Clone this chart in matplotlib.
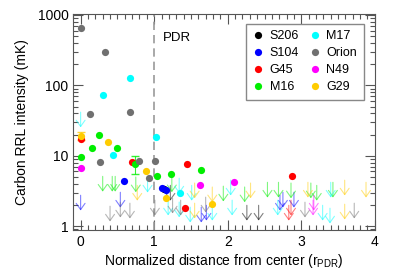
import matplotlib
matplotlib.use("Agg")
import matplotlib.pyplot as plt
from matplotlib.ticker import FixedLocator, MultipleLocator, LogLocator, NullFormatter

plt.rcParams['font.family'] = ['Liberation Sans', 'DejaVu Sans']
plt.rcParams['mathtext.fontset'] = 'custom'
plt.rcParams['mathtext.rm'] = 'Liberation Sans'
plt.rcParams['mathtext.it'] = 'Liberation Sans:italic'

# source names and colours (legend order)
names = ["S206", "S104", "G45", "M16", "M17", "Orion", "N49", "G29"]
colors = ["#000000", "#0000ff", "#ff0000", "#00ee00", "#00ffff", "#707070", "#ff00ff", "#ffcc00"]

# detections: distance (r_PDR) and intensity (mK)
det_x = {
    "S206": [1.14],
    "S104": [0.59, 1.10, 1.16],
    "G45": [0.0, 0.70, 1.44, 1.42, 2.87],
    "M16": [0.0, 0.15, 0.25, 0.50, 0.74, 1.04, 1.23, 1.64],
    "M17": [0.30, 0.67, 0.44, 1.02, 1.35],
    "Orion": [0.0, 0.33, 0.67, 0.13, 0.27, 0.80, 1.01, 0.93],
    "N49": [0.0, 1.62, 2.09],
    "G29": [0.0, 0.37, 0.89, 1.16, 1.79],
}
det_y = {
    "S206": [3.35],
    "S104": [4.35, 3.5, 3.25],
    "G45": [17.5, 8.1, 7.6, 1.8, 5.2],
    "M16": [9.5, 12.8, 19.5, 12.8, 7.6, 5.1, 5.6, 6.2],
    "M17": [72, 126, 10.2, 18.3, 3.0],
    "Orion": [645, 302, 42, 39, 8.2, 8.5, 8.4, 4.9],
    "N49": [6.6, 3.9, 4.2],
    "G29": [19, 15.5, 6.0, 2.5, 2.05],
}
# error bars (only a couple are visible)
err_src = ["G29", "M16"]
err_x = [0.0, 0.74]
err_y = [19, 7.6]
err_lo = [2.5, 2.0]
err_hi = [2.5, 2.2]

# upper limits: distance and limit value
lim_x = {
    "S206": [1.22, 2.26, 2.42],
    "S104": [0.0, 0.54, 1.64, 1.71, 2.71, 2.75, 2.90],
    "G45": [2.83, 2.86],
    "M16": [0.30, 0.43, 0.47, 0.75, 1.24, 1.94, 2.23, 2.54, 2.69, 2.86, 3.13, 3.21, 3.43],
    "M17": [0.0, 0.91, 1.19, 1.34, 1.34, 1.49, 1.51, 1.79, 2.04, 2.06, 2.68, 3.29, 3.39, 3.40],
    "Orion": [0.40, 0.54, 0.67, 1.01, 1.25, 1.36, 1.70, 3.05, 3.72],
    "N49": [3.17, 3.16],
    "G29": [0.77, 1.55, 1.79, 2.31, 1.55, 3.09, 3.59, 3.88, 3.59],
}
lim_y = {
    "S206": [3.8, 1.98, 1.98],
    "S104": [2.75, 3.03, 1.86, 1.98, 2.75, 3.03, 3.03],
    "G45": [1.98, 2.34],
    "M16": [5.1, 5.1, 5.1, 5.0, 5.0, 3.7, 3.6, 4.2, 4.2, 4.1, 4.1, 3.8, 4.2],
    "M17": [41.7, 4.95, 2.34, 4.8, 2.2, 1.86, 3.8, 1.98, 4.5, 2.34, 2.34, 1.98, 1.8, 4.2],
    "Orion": [1.92, 2.19, 2.12, 2.34, 2.5, 2.34, 2.58, 2.19, 2.12],
    "N49": [2.75, 2.34],
    "G29": [3.8, 4.1, 3.6, 4.1, 2.12, 4.2, 4.5, 4.2, 2.05],
}

fig = plt.figure(figsize=(4.07, 2.71), dpi=100)
ax = fig.add_axes([0.180, 0.151, 0.741, 0.797])
ax.set_yscale("log")

for name, c in zip(names, colors):
    for x, y in zip(lim_x[name], lim_y[name]):
        ax.annotate("", xy=(x, y / 1.65), xytext=(x, y),
                    arrowprops=dict(arrowstyle="->,head_length=0.45,head_width=0.32",
                                    color=c, lw=0.8, alpha=0.5,
                                    shrinkA=0, shrinkB=0))

for s, x, y, lo, hi in zip(err_src, err_x, err_y, err_lo, err_hi):
    c = colors[names.index(s)]
    ax.errorbar([x], [y], yerr=[[lo], [hi]], fmt="none", ecolor=c,
                elinewidth=0.8, capsize=3, alpha=0.8)

for name, c in zip(names, colors):
    ax.plot(det_x[name], det_y[name], "o", color=c, ms=5.2, mec="none",
            label=name, zorder=3)

ax.axvline(1.0, color="#999999", ls=(0, (5, 3)), lw=1.2)
ax.text(1.12, 470, "PDR", fontsize=9.5, va="center")

ax.set_xlim(-0.1, 4.0)
ax.set_ylim(0.88, 1030)
ax.xaxis.set_major_locator(FixedLocator([0, 1, 2, 3, 4]))
ax.xaxis.set_minor_locator(MultipleLocator(0.1))
ax.yaxis.set_major_locator(FixedLocator([1, 10, 100, 1000]))
ax.set_yticklabels(["1", "10", "100", "1000"])
ax.yaxis.set_minor_locator(LogLocator(base=10, subs=range(2, 10)))
ax.yaxis.set_minor_formatter(NullFormatter())
ax.tick_params(which="both", direction="in", top=True, right=True,
               labelsize=10, color="#555555")
ax.tick_params(which="major", length=7, width=0.8)
ax.tick_params(which="minor", length=3.5, width=0.8)
for sp in ax.spines.values():
    sp.set_color("#555555")

ax.set_xlabel(r"Normalized distance from center (r$_{\mathrm{PDR}}$)", fontsize=10, labelpad=2)
ax.set_ylabel("Carbon RRL intensity (mK)", fontsize=10, labelpad=6)

ax.legend(loc="upper right", bbox_to_anchor=(0.985, 0.985), ncol=2, fontsize=9,
          fancybox=False, edgecolor="#888888", framealpha=1, handlelength=0.8,
          handletextpad=0.5, columnspacing=0.9, labelspacing=0.4, borderpad=0.55)

fig.savefig("out.png", dpi=100)
